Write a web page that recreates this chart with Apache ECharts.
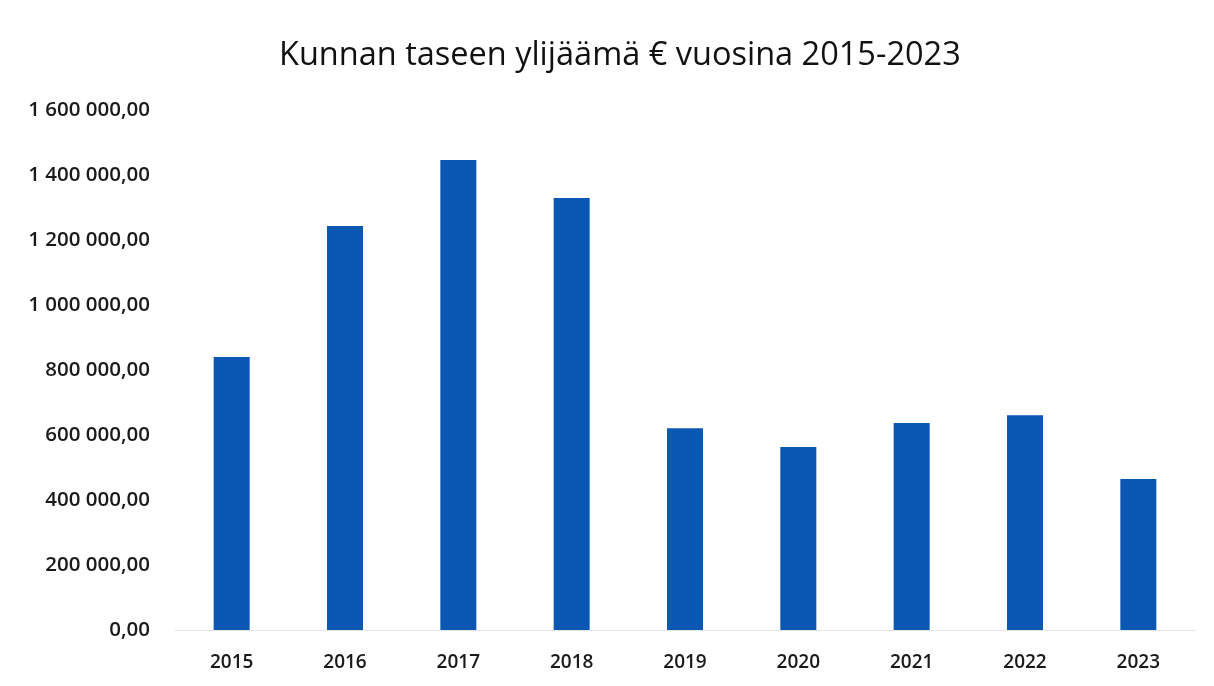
<!DOCTYPE html>
<html>
<head>
<meta charset="utf-8">
<script src="https://cdn.jsdelivr.net/npm/echarts@6/dist/echarts.min.js"></script>
<style>
  html, body { margin: 0; padding: 0; background: #fff; }
  #chart { width: 1214px; height: 686px; }
</style>
</head>
<body>
<div id="chart"></div>
<script>
// vuodet ja ylijäämä (luettu kuvasta)
const years = ['2015', '2016', '2017', '2018', '2019', '2020', '2021', '2022', '2023'];
const surplus = [840000, 1243000, 1446000, 1329000, 621000, 563000, 637000, 661000, 465000];

const fmt = (v) => {
  // 1 600 000,00 -muoto
  const s = Math.round(v).toString().replace(/\B(?=(\d{3})+(?!\d))/g, ' ');
  return s + ',00';
};

const chart = echarts.init(document.getElementById('chart'));
chart.setOption({
  animation: false,
  title: {
    text: 'Kunnan taseen ylijäämä € vuosina 2015-2023',
    left: 274,
    top: 34,
    textStyle: { fontFamily: 'Open Sans', fontSize: 32.5, fontWeight: 'normal', color: '#111' }
  },
  grid: { left: 175, right: 19, top: 110, bottom: 56 },
  xAxis: {
    type: 'category',
    data: years,
    axisLine: { lineStyle: { color: '#e6e6e6', width: 1 } },
    axisTick: { show: false },
    axisLabel: { fontFamily: 'Open Sans', fontSize: 19, fontWeight: 600, color: '#1a1a1a', margin: 23 }
  },
  yAxis: {
    type: 'value',
    min: 0,
    max: 1600000,
    interval: 200000,
    splitLine: { show: false },
    axisLine: { show: false },
    axisTick: { show: false },
    axisLabel: {
      fontFamily: 'Open Sans', fontSize: 20.5, fontWeight: 600, color: '#1a1a1a', margin: 25,
      formatter: fmt
    }
  },
  series: [{
    type: 'bar',
    data: surplus,
    barWidth: 36,
    itemStyle: { color: '#0b57b4' }
  }]
});
</script>
</body>
</html>
